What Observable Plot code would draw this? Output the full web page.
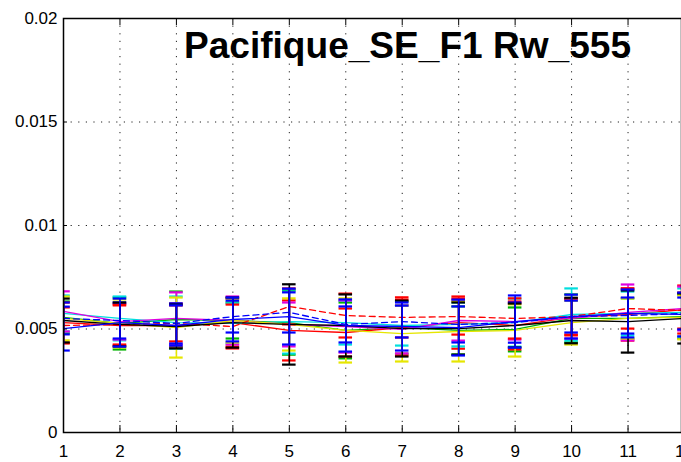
<!DOCTYPE html>
<html><head><meta charset="utf-8">
<script src="https://cdn.jsdelivr.net/npm/d3@7"></script>
<script src="https://cdn.jsdelivr.net/npm/@observablehq/plot@0.6"></script>
<style>
html,body{margin:0;padding:0;background:#fff;overflow:hidden;width:681px;height:462px}
</style>
</head><body><div id="chart"></div>
<script>
const title = "Pacifique_SE_F1 Rw_555";
const xValues = [1,2,3,4,5,6,7,8,9,10,11,12];
const xTickLabels = ["1","2","3","4","5","6","7","8","9","10","11","12"];
const yTicks = [0, 0.005, 0.01, 0.015, 0.02];
const yTickLabels = ["0","0.005","0.01","0.015","0.02"];

const seriesNames  = ["green","red","cyan","magenta","yellow","red dashed","blue dashed","black","blue"];
const seriesColors = ["#00b400","#ff0000","#00dede","#e000e0","#e6e600","#ff0000","#0000ff","#000000","#0000ff"];
const seriesDash   = [null,null,null,null,null,"6,4","6,4",null,null];

const meanGreen   = [0.00556,0.00527,0.00546,0.00541,0.00531,0.00493,0.00507,0.00493,0.00498,0.00551,0.00551,0.00560];
const meanRed     = [0.00531,0.00517,0.00517,0.00531,0.00493,0.00483,0.00507,0.00531,0.00517,0.00556,0.00570,0.00594];
const meanCyan    = [0.00575,0.00551,0.00531,0.00527,0.00536,0.00531,0.00517,0.00522,0.00531,0.00570,0.00575,0.00580];
const meanMagenta = [0.00585,0.00536,0.00551,0.00541,0.00522,0.00512,0.00498,0.00541,0.00536,0.00551,0.00580,0.00599];
const meanYellow  = [0.00551,0.00527,0.00507,0.00541,0.00522,0.00493,0.00478,0.00488,0.00493,0.00531,0.00551,0.00556];
const meanRedDash = [0.00517,0.00522,0.00527,0.00512,0.00609,0.00565,0.00556,0.00560,0.00551,0.00560,0.00599,0.00589];
const meanBlueDash= [0.00551,0.00541,0.00527,0.00560,0.00580,0.00522,0.00536,0.00522,0.00531,0.00560,0.00565,0.00575];
const meanBlack   = [0.00541,0.00522,0.00512,0.00531,0.00522,0.00517,0.00502,0.00502,0.00517,0.00541,0.00536,0.00551];
const meanBlue    = [0.00502,0.00531,0.00517,0.00546,0.00560,0.00517,0.00512,0.00507,0.00536,0.00560,0.00575,0.00570];

const errGreen   = [0.00077,0.00126,0.00135,0.00087,0.00155,0.00135,0.00126,0.00116,0.00106,0.00116,0.00097,0.00106];
const errRed     = [0.00097,0.00097,0.00106,0.00116,0.00145,0.00116,0.00135,0.00126,0.00116,0.00087,0.00126,0.00116];
const errCyan    = [0.00087,0.00106,0.00126,0.00097,0.00155,0.00106,0.00097,0.00106,0.00116,0.00126,0.00106,0.00116];
const errMagenta = [0.00097,0.00087,0.00126,0.00116,0.00106,0.00126,0.00116,0.00097,0.00087,0.00097,0.00135,0.00106];
const errYellow  = [0.00106,0.00116,0.00145,0.00106,0.00126,0.00155,0.00135,0.00145,0.00126,0.00106,0.00097,0.00106];
const errRedDash = [0.00087,0.00097,0.00087,0.00106,0.00087,0.00106,0.00097,0.00087,0.00097,0.00087,0.00097,0.00087];
const errBlueDash= [0.00077,0.00087,0.00097,0.00077,0.00097,0.00087,0.00077,0.00087,0.00097,0.00077,0.00087,0.00077];
const errBlack   = [0.00106,0.00106,0.00106,0.00121,0.00194,0.00150,0.00135,0.00126,0.00106,0.00110,0.00150,0.00121];
const errBlue    = [0.00106,0.00116,0.00097,0.00106,0.00135,0.00126,0.00116,0.00135,0.00126,0.00106,0.00116,0.00106];

const means = [meanGreen,meanRed,meanCyan,meanMagenta,meanYellow,meanRedDash,meanBlueDash,meanBlack,meanBlue];
const errs  = [errGreen,errRed,errCyan,errMagenta,errYellow,errRedDash,errBlueDash,errBlack,errBlue];

const capHalf = 0.12;
const marks = [
  Plot.ruleX(xValues, {stroke:"#222", strokeWidth:1, strokeDasharray:"1.2,6.4"}),
  Plot.ruleY(yTicks, {stroke:"#222", strokeWidth:1, strokeDasharray:"1.2,6.4"})
];
seriesNames.forEach((name, i) => {
  const rows = xValues.map((x, j) => ({x, y: means[i][j], lo: means[i][j] - errs[i][j], hi: means[i][j] + errs[i][j]}));
  const c = seriesColors[i];
  marks.push(Plot.line(rows, {x:"x", y:"y", stroke:c, strokeWidth:1.3, strokeDasharray: seriesDash[i] || undefined, clip:true}));
  marks.push(Plot.ruleX(rows, {x:"x", y1:"lo", y2:"hi", stroke:c, strokeWidth:1.6, clip:true}));
  marks.push(Plot.ruleY(rows, {y:"hi", x1:d=>d.x-capHalf, x2:d=>d.x+capHalf, stroke:c, strokeWidth:2.2, clip:true}));
  marks.push(Plot.ruleY(rows, {y:"lo", x1:d=>d.x-capHalf, x2:d=>d.x+capHalf, stroke:c, strokeWidth:2.2, clip:true}));
});
marks.push(
  Plot.frame({stroke:"#000", strokeWidth:1.5}),
  Plot.ruleX(xValues, {stroke:"#000", insetTop:407}),
  Plot.ruleX(xValues, {stroke:"#000", insetBottom:407}),
  Plot.ruleY(yTicks, {stroke:"#000", insetRight:614}),
  Plot.axisX({ticks:xValues, tickSize:0, tickPadding:12, tickFormat:d=>xTickLabels[xValues.indexOf(d)], label:null, fill:"#000"}),
  Plot.axisY({ticks:yTicks, tickSize:0, tickPadding:6, tickFormat:d=>yTickLabels[yTicks.indexOf(d)], label:null, fill:"#000"}),
  Plot.text([title], {frameAnchor:"top", text:d=>d, dx:35, dy:14, lineAnchor:"top", fontSize:36, fontWeight:"bold", fill:"#000"})
);

const chart = Plot.plot({
  width: 681,
  height: 462,
  marginLeft: 63, marginTop: 18, marginBottom: 30, marginRight: 0,
  x: {domain:[1,12], range:[63,684]},
  y: {domain:[0,0.02], range:[432,18]},
  style: {fontSize:"17px", fontFamily:"'Liberation Sans', Arial, Helvetica, sans-serif", background:"#fff", color:"#000", overflow:"hidden"},
  marks
});
document.getElementById("chart").appendChild(chart);
d3.select(chart).selectAll("text").filter(function(){ return this.textContent === title; })
  .attr("textLength", 447).attr("lengthAdjust", "spacingAndGlyphs");
</script>
</body></html>
